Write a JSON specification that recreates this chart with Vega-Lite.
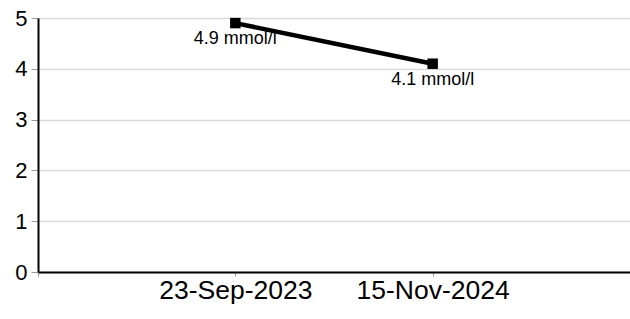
{
  "$schema": "https://vega.github.io/schema/vega-lite/v6.json",
  "width": 592,
  "height": 254,
  "autosize": {"type": "none"},
  "padding": {"left": 38, "top": 18, "right": 0, "bottom": 47},
  "background": "white",
  "config": {
    "view": {"stroke": null},
    "font": "Liberation Sans"
  },
  "data": {
    "values": [
      {"date": "23-Sep-2023", "value": 4.9, "label": "4.9 mmol/l"},
      {"date": "15-Nov-2024", "value": 4.1, "label": "4.1 mmol/l"}
    ]
  },
  "encoding": {
    "x": {
      "field": "date",
      "type": "ordinal",
      "sort": null,
      "scale": {"type": "point", "domain": ["a", "23-Sep-2023", "15-Nov-2024", "b"], "padding": 0},
      "axis": {
        "title": null,
        "labelAngle": 0,
        "labelExpr": "datum.value == 'a' || datum.value == 'b' ? '' : datum.label",
        "labelFontSize": 26.5,
        "labelColor": "#000000",
        "labelPadding": 1,
        "domainColor": "#000000",
        "domainWidth": 2,
        "tickColor": "#999999",
        "tickSize": 4,
        "tickWidth": 1,
        "grid": false
      }
    },
    "y": {
      "field": "value",
      "type": "quantitative",
      "scale": {"domain": [0, 5], "nice": false, "zero": true},
      "axis": {
        "title": null,
        "values": [0, 1, 2, 3, 4, 5],
        "labelFontSize": 22,
        "labelColor": "#000000",
        "labelPadding": 4,
        "domainColor": "#000000",
        "domainWidth": 2,
        "tickColor": "#999999",
        "tickSize": 7,
        "tickWidth": 1,
        "grid": true,
        "gridColor": "#d9d9d9",
        "gridWidth": 1.5
      }
    }
  },
  "layer": [
    {"mark": {"type": "line", "color": "#000000", "strokeWidth": 4.5}},
    {"mark": {"type": "point", "shape": "square", "filled": true, "color": "#000000", "size": 110, "opacity": 1}},
    {
      "mark": {"type": "text", "baseline": "top", "align": "center", "dy": 7, "fontSize": 18, "color": "#000000"},
      "encoding": {"text": {"field": "label"}}
    }
  ]
}
